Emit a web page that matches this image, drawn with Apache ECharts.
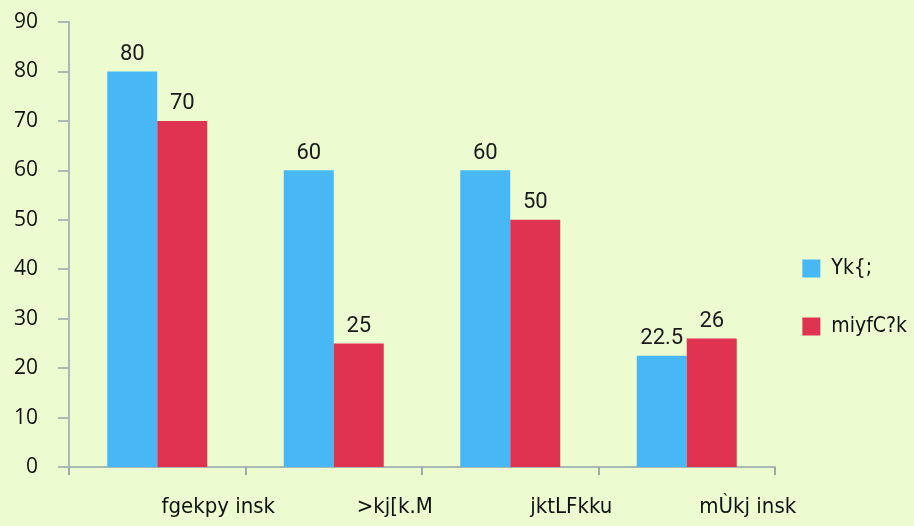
<!DOCTYPE html>
<html><head><meta charset="utf-8">
<script src="https://cdn.jsdelivr.net/npm/echarts@6/dist/echarts.min.js"></script>
<style>html,body{margin:0;padding:0;background:#edfcd0;}#c{width:914px;height:526px;}</style>
</head><body><div id="c"></div>
<script>
const categories = ['fgekpy insk', '>kj[k.M', 'jktLFkku', 'mÙkj insk'];
const seriesNames = ['Yk{;', 'miyfC?k'];
const targetValues = [80, 60, 60, 22.5];
const achievedValues = [70, 25, 50, 26];
const yTicks = [0, 10, 20, 30, 40, 50, 60, 70, 80, 90];

const chart = echarts.init(document.getElementById('c'));
const labelStyle = {show: true, position: 'top', distance: 6, color: '#1a1a1a', fontSize: 22, fontFamily: 'Roboto, sans-serif'};
const narrow = '"DejaVu Sans Condensed", "Liberation Sans Narrow", Roboto, sans-serif';
chart.setOption({
  backgroundColor: '#edfcd0',
  animation: false,
  grid: {left: 69, right: 139, top: 22, bottom: 59},
  legend: {
    orient: 'vertical', right: 2, top: 253, itemWidth: 18, itemHeight: 18, itemGap: 37,
    icon: 'rect',
    textStyle: {fontSize: 21, color: '#111', fontFamily: narrow, padding: [0,0,0,6]},
    data: seriesNames
  },
  xAxis: {
    type: 'category', data: categories,
    axisLine: {lineStyle: {color: '#a9bab4', width: 2}},
    axisTick: {show: true, length: 8, lineStyle: {color: '#9aaba8', width: 2}},
    axisLabel: {fontSize: 22, color: '#111', margin: 29, padding: [0,0,0,122], fontFamily: narrow}
  },
  yAxis: {
    type: 'value', min: yTicks[0], max: yTicks[yTicks.length-1], interval: 10,
    splitLine: {show: false},
    axisLine: {show: true, lineStyle: {color: '#a9bab4', width: 2}},
    axisTick: {show: true, length: 11, lineStyle: {color: '#a9bab4', width: 2}},
    axisLabel: {fontSize: 21, color: '#111', margin: 31, fontFamily: '"Open Sans", sans-serif'}
  },
  series: [
    {name: seriesNames[0], type: 'bar', data: targetValues, barWidth: 50, barGap: '0%',
     itemStyle: {color: '#47b8f5'}, label: labelStyle},
    {name: seriesNames[1], type: 'bar', data: achievedValues, barWidth: 50,
     itemStyle: {color: '#e03352'}, label: labelStyle}
  ]
});
</script></body></html>
